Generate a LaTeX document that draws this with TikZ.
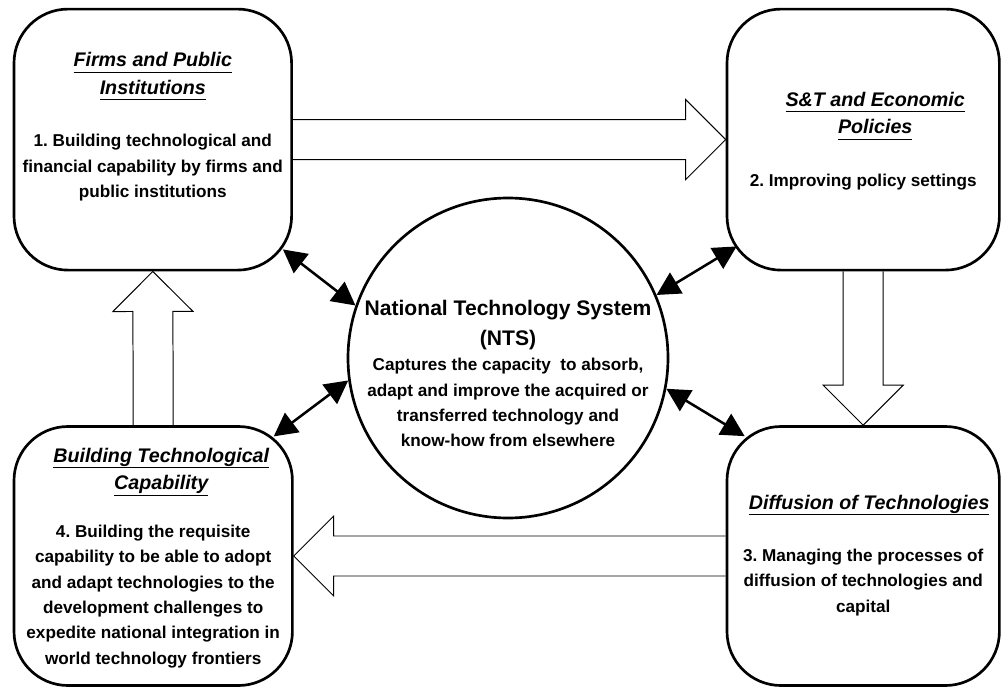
\documentclass[tikz,border=0pt]{standalone}
\usepackage{fontspec}
\setmainfont{Liberation Sans}
\usetikzlibrary{arrows.meta,positioning,calc}
\frenchspacing

% underlined header line
\newcommand{\ulbox}[1]{\leavevmode\setbox0\hbox{#1}\rlap{\rule[-4.3pt]{\wd0}{0.8pt}}\box0}

% hollow block arrow from #1 to #2
\newcommand{\fatarrow}[2]{%
  \coordinate (hb) at ($(#2)!1cm!(#1)$);
  \draw[hollow] ($(#1)!0.5cm!90:(#2)$) -- ($(hb)!0.5cm!90:(#2)$) -- ($(hb)!1cm!90:(#2)$)
    -- (#2) -- ($(hb)!1cm!-90:(#2)$) -- ($(hb)!0.5cm!-90:(#2)$) -- ($(#1)!0.5cm!-90:(#2)$);}

\tikzset{
  roundbox/.style={draw, line width=1.9pt, rounded corners=1.35cm},
  headtxt/.style={align=center, inner sep=0pt, font=\fontsize{14pt}{19.5pt}\selectfont\bfseries\itshape},
  bodytxt/.style={align=center, inner sep=0pt, font=\fontsize{12.2pt}{18pt}\selectfont\bfseries},
  hollow/.style={draw, line width=0.7pt, line join=miter},
  twoway/.style={line width=1.8pt, {Triangle[length=0.58cm,width=0.6cm]}-{Triangle[length=0.58cm,width=0.6cm]}}
}

\begin{document}
\begin{tikzpicture}
    \useasboundingbox (0,0) rectangle (25.05,-17.175);

    % the four boxes and the centre
    \node[roundbox, minimum width=6.94cm, minimum height=6.525cm] (firms) at (3.82,-3.49) {};
    \node[roundbox, minimum width=6.81cm, minimum height=6.525cm] (policy) at (21.58,-3.49) {};
    \node[roundbox, minimum width=6.96cm, minimum height=6.475cm] (capab) at (3.83,-13.9) {};
    \node[roundbox, minimum width=6.81cm, minimum height=6.475cm] (diffusion) at (21.58,-13.9) {};
    \node[circle, draw, line width=1.9pt, minimum size=8cm] (nts) at (12.7,-8.95) {};

    \node[headtxt, below=1.115cm of firms.north] (firmshead) {\ulbox{Firms and Public}\\ \ulbox{Institutions}};
    \node[bodytxt, below=3.16cm of firms.north] (firmsbody) {1. Building technological and\\ financial capability by firms and\\ public institutions};

    \node[headtxt, below=2.1cm of policy.north, xshift=0.3cm] (policyhead) {\ulbox{S\&T and Economic}\\ \ulbox{Policies}};
    \node[bodytxt, below=4.16cm of policy.north] (policybody) {2. Improving policy settings};

    \node[headtxt, below=0.565cm of capab.north, xshift=0.2cm] (capabhead) {\ulbox{Building Technological}\\ \ulbox{Capability}};
    \node[bodytxt, below=2.49cm of capab.north] (capabbody) {4. Building the requisite\\ capability to be able to adopt\\ and adapt technologies to the\\ development challenges to\\ expedite national integration in\\ world technology frontiers};

    \node[headtxt, below=1.74cm of diffusion.north, xshift=0.15cm] (diffusionhead) {\ulbox{Diffusion of Technologies}};
    \node[bodytxt, below=3.09cm of diffusion.north] (diffusionbody) {3. Managing the processes of\\ diffusion of technologies and\\ capital};

    \node[align=center, inner sep=0pt, font=\fontsize{15pt}{21.3pt}\selectfont\bfseries,
          anchor=north] (ntshead) at ([yshift=1.46cm]nts.center) {National Technology System\\ (NTS)};
    \node[bodytxt, anchor=north] (ntsbody) at (nts.center) {Captures the capacity\ \ to absorb,\\ adapt and improve the acquired or\\ transferred technology and\\ know-how from elsewhere};

    % block arrows round the cycle
    \fatarrow{firms.east}{policy.west}
    \fatarrow{policy.south}{diffusion.north}
    \fatarrow{diffusion.west}{capab.east}
    \fatarrow{capab.north}{firms.south}

    % links to the NTS
    \draw[twoway] ([shift={(-0.25,0.55)}]firms.south east) -- (nts.161);
    \draw[twoway] ([shift={(0.275,0.625)}]policy.south west) -- (nts.23);
    \draw[twoway] ([shift={(-0.5,-0.28)}]capab.north east) -- (nts.188);
    \draw[twoway] ([shift={(0.475,-0.275)}]diffusion.north west) -- (nts.-11);
\end{tikzpicture}
\end{document}
